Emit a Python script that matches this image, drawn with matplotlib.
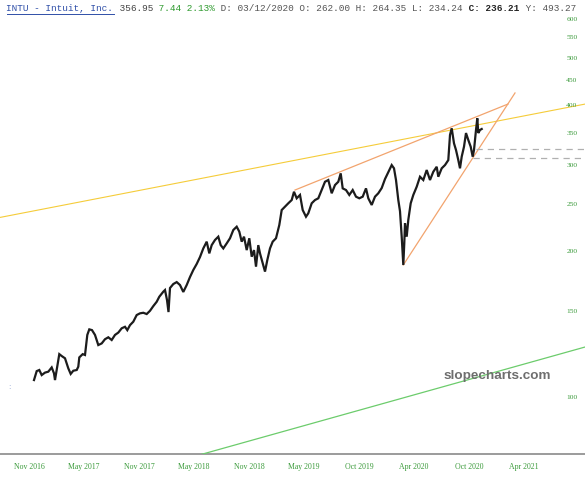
#!/usr/bin/env python3
"""INTU daily price with trend lines, slopecharts style."""

import matplotlib
matplotlib.use("Agg")
import matplotlib.pyplot as plt
from matplotlib.lines import Line2D

# chart bar index (compressed daily axis) and close prices
BARS = [
    34, 36.7, 39.3, 41.7, 45, 48.3, 51.7, 54, 55, 56.7,
    59.3, 61.7, 65, 68.3, 70.7, 73.3, 76.7, 78.3, 79.3, 82.7,
    85, 87.3, 89.3, 92, 95, 98.3, 101.7, 105, 108.3, 111.7,
    115, 118.3, 121.7, 125, 127.3, 130, 133.3, 136.7, 140, 143.3,
    146.7, 150, 153.3, 156.7, 159.3, 163.3, 165, 167, 168.5, 170,
    173.3, 176.7, 180, 183.3, 186.7, 190, 193.3, 196.7, 200, 203.3,
    206.7, 209.3, 211.7, 215, 218.3, 220.7, 223.3, 226.7, 230, 233.3,
    236.7, 239.3, 241.7, 244, 246.7, 249.3, 251.7, 254, 256, 258.3,
    260, 262.7, 265, 267.3, 270, 272.7, 276, 279.3, 281.7, 285,
    288.3, 291.7, 294, 296.7, 300, 302.7, 306, 308.3, 311.7, 315,
    318.3, 321.7, 325, 328.3, 331.7, 335, 338.3, 340.7, 342.7, 346,
    349.3, 352.7, 356, 359.3, 362.7, 366, 368.3, 371.7, 375, 378.3,
    381.7, 385, 388.3, 391.7, 394, 396, 398.3, 400, 401.7, 402.7,
    403.3, 404.3, 405, 406.7, 408.3, 410.7, 413.3, 416.7, 420, 423.3,
    426.7, 430, 433.3, 436.7, 438.3, 441.7, 445, 448.3, 450, 451.7,
    454, 456, 458.3, 460, 461.7, 464, 466, 468.3, 470.7, 472.7,
    474, 475, 476, 477.3, 478.3, 480, 481.7,
]
CLOSE = [
    108.4, 113.1, 113.7, 111.0, 112.3, 112.8, 115.1, 111.9, 108.4, 113.7,
    122.6, 121.5, 120.2, 114.6, 111.6, 113.3, 113.7, 115.5, 120.7, 122.6,
    122.1, 134.3, 137.9, 137.4, 134.3, 128.0, 129.0, 131.6, 132.8, 131.1,
    134.3, 135.8, 138.6, 139.6, 137.4, 140.7, 143.0, 147.6, 148.8, 149.2,
    148.3, 150.6, 154.0, 157.2, 161.0, 164.9, 166.2, 158.5, 149.7, 167.8,
    171.0, 172.6, 170.2, 164.7, 170.2, 176.8, 182.8, 188.1, 194.4, 202.5,
    209.1, 197.8, 205.7, 210.8, 214.1, 205.7, 202.5, 207.4, 212.5, 221.0,
    224.5, 219.3, 209.1, 214.1, 200.9, 212.5, 194.7, 200.9, 185.7, 205.7,
    197.8, 188.7, 181.4, 191.6, 202.5, 209.1, 212.5, 226.3, 243.0, 246.9,
    250.9, 254.8, 265.0, 256.9, 261.0, 243.0, 235.4, 239.3, 250.9, 254.8,
    256.9, 267.2, 277.9, 280.2, 263.1, 273.6, 277.9, 289.2, 269.3, 267.2,
    261.0, 267.2, 258.9, 256.9, 258.9, 269.3, 256.9, 248.9, 258.9, 263.1,
    269.7, 281.5, 291.0, 300.8, 296.2, 280.2, 254.8, 241.6, 214.1, 196.3,
    187.2, 207.8, 228.2, 214.1, 231.8, 250.9, 261.0, 271.4, 284.6, 280.2,
    293.8, 280.2, 291.4, 298.4, 284.6, 296.2, 300.8, 308.0, 347.0, 358.2,
    333.5, 323.1, 308.0, 296.2, 313.0, 328.2, 350.2, 338.8, 328.2, 313.0,
    323.1, 338.8, 355.3, 375.6, 350.2, 355.3, 357.0,
]

TICK_BARS = [29, 84, 139, 194, 249, 304, 359, 414, 469, 524]
TICK_LABELS = ["Nov 2016", "May 2017", "Nov 2017", "May 2018", "Nov 2018",
               "May 2019", "Oct 2019", "Apr 2020", "Oct 2020", "Apr 2021"]
PRICE_TICKS = [100, 150, 200, 250, 300, 350, 400, 450, 500, 550, 600]

# drawn trend lines: (bar, price) end points
YELLOW_LINE = ([0, 585], [234.6, 401.8])
ORANGE_UPPER = ([295, 508], [267.2, 401.9])
ORANGE_LOWER = ([403.3, 515], [187.2, 423.6])
GREEN_LINE = ([201.7, 585], [76.2, 126.8])
LEVELS = [(476, 324.6), (473, 311.0)]

HEADER = [
    ("INTU - Intuit, Inc.", "#2f4fa8", "normal"),
    (" 356.95", "#444444", "normal"),
    (" 7.44 2.13%", "#2e9a2e", "normal"),
    (" D: 03/12/2020 O: 262.00 H: 264.35 L: 234.24", "#555555", "normal"),
    (" C: 236.21", "#222222", "bold"),
    (" Y: 493.27", "#555555", "normal"),
]

GREEN_TXT = "#3a9a3a"
W, H = 585, 480
HDR_LEFT, HDR_RIGHT = 6.5, 576.0

fig = plt.figure(figsize=(W / 100, H / 100), dpi=100)
ax = fig.add_axes([0, 1 - 454.3 / H, 1, 454.3 / H])
ax.set_yscale("log")
ax.set_xlim(0, 585)
ax.set_ylim(76.2, 658.6)

for side in ("top", "left", "right"):
    ax.spines[side].set_visible(False)
ax.spines["bottom"].set_color("#8a8a8a")
ax.spines["bottom"].set_linewidth(1.2)

ax.set_yticks([])
ax.yaxis.set_minor_locator(matplotlib.ticker.NullLocator())
ax.set_xticks(TICK_BARS)
ax.set_xticklabels(TICK_LABELS, family="Liberation Serif", fontsize=5.6,
                   color=GREEN_TXT)
ax.tick_params(axis="x", length=0, pad=6)

for p in PRICE_TICKS:
    ax.text(572 / W, p, str(p), transform=ax.get_yaxis_transform(),
            ha="center", va="center", family="Liberation Serif",
            fontsize=5.4, color=GREEN_TXT)

# trend lines
ax.plot(*YELLOW_LINE, color="#f5cc3a", lw=0.8, zorder=2)
ax.plot(*ORANGE_UPPER, color="#f2a46e", lw=0.9, zorder=2)
ax.plot(*ORANGE_LOWER, color="#f2a46e", lw=0.9, zorder=2)
ax.plot(*GREEN_LINE, color="#6ccc6c", lw=0.9, zorder=4)
for x0, lvl in LEVELS:
    ax.plot([x0, 585], [lvl, lvl], color="#b0b0b0", lw=0.9,
            dashes=(5, 4), zorder=2)

# price
ax.plot(BARS, CLOSE, color="#1c1c1c", lw=1.6, solid_joinstyle="miter", zorder=3)

# watermark
fig.text(497 / W, 1 - 376 / H, "slopecharts.com", family="Liberation Sans",
         weight="bold", fontsize=9.7, color="#6e6e6e", ha="center",
         va="center", zorder=3)
fig.text(9 / W, 1 - 387 / H, ":", fontsize=5, color="#8aa0d0",
         ha="center", va="center")

# header line: size the mono font so the whole line fits the width
renderer = fig.canvas.get_renderer()
full = "".join(s for s, _, _ in HEADER)
probe = fig.text(0, 0, full, family="Liberation Mono", fontsize=10)
size = 10 * (HDR_RIGHT - HDR_LEFT) / probe.get_window_extent(renderer=renderer).width
probe.remove()
adv = (HDR_RIGHT - HDR_LEFT) / len(full)

y_hdr = 1 - 8.5 / H
col = 0
for seg, color, weight in HEADER:
    x = (HDR_LEFT + col * adv) / W
    fig.text(x, y_hdr, seg, family="Liberation Mono", fontsize=size,
             color=color, weight=weight, va="center", ha="left")
    if seg.startswith("INTU"):
        x1 = (HDR_LEFT + len(seg) * adv) / W
        fig.add_artist(Line2D([x, x1], [1 - 13.5 / H, 1 - 13.5 / H],
                              transform=fig.transFigure, color=color, lw=0.7))
    col += len(seg)

fig.savefig("out.png", dpi=100)
